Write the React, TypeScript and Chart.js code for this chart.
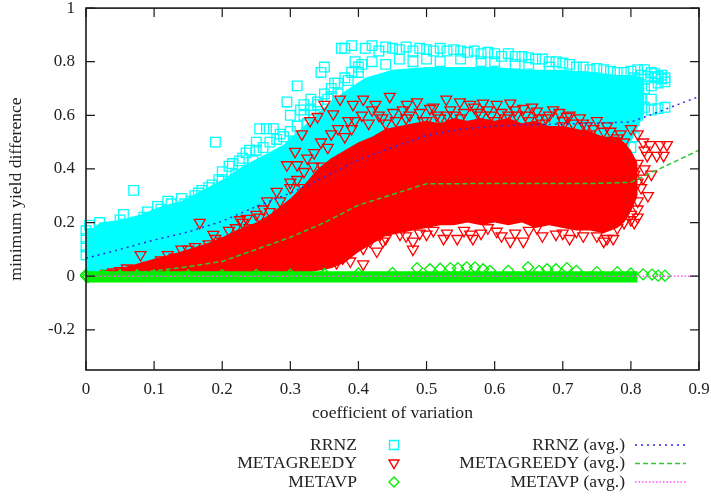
import React, { useEffect, useRef } from 'react';
import { Chart, registerables } from 'chart.js';
Chart.register(...registerables);

// ---- axes ----
const xTickValues = [0, 0.1, 0.2, 0.3, 0.4, 0.5, 0.6, 0.7, 0.8, 0.9];
const yTickValues = [-0.2, 0, 0.2, 0.4, 0.6, 0.8, 1];
const xTitle = 'coefficient of variation';
const yTitle = 'minimum yield difference';
const seriesNames = ['RRNZ', 'METAGREEDY', 'METAVP'];

// ---- dense cloud envelopes ----
const cyanBandX = [0, 0.012, 0.02, 0.05, 0.08, 0.11, 0.14, 0.17, 0.2, 0.23, 0.26, 0.29, 0.32, 0.35, 0.38, 0.41, 0.45, 0.5, 0.55, 0.6, 0.65, 0.7, 0.75, 0.78, 0.8, 0.82];
const cyanBandHigh = [0.18, 0.18, 0.2, 0.21, 0.23, 0.26, 0.28, 0.32, 0.36, 0.41, 0.45, 0.49, 0.56, 0.63, 0.69, 0.74, 0.77, 0.78, 0.78, 0.78, 0.77, 0.77, 0.76, 0.75, 0.75, 0.74];
const cyanBandLow = [0, 0, 0, 0, 0.005, 0.01, 0.02, 0.03, 0.04, 0.06, 0.08, 0.1, 0.12, 0.15, 0.2, 0.25, 0.3, 0.35, 0.38, 0.38, 0.38, 0.4, 0.42, 0.44, 0.5, 0.61];

const redBandX = [0.03, 0.05, 0.08, 0.1, 0.13, 0.15, 0.18, 0.2, 0.22, 0.25, 0.27, 0.3, 0.32, 0.34, 0.36, 0.38, 0.4, 0.42, 0.44, 0.46, 0.48, 0.5, 0.52, 0.54, 0.56, 0.58, 0.6, 0.62, 0.64, 0.66, 0.68, 0.7, 0.72, 0.74, 0.76, 0.78, 0.79, 0.8, 0.81];
const redBandHigh = [0.015, 0.03, 0.05, 0.065, 0.085, 0.1, 0.125, 0.145, 0.17, 0.2, 0.23, 0.29, 0.34, 0.4, 0.44, 0.47, 0.5, 0.52, 0.55, 0.56, 0.57, 0.58, 0.57, 0.59, 0.58, 0.59, 0.58, 0.59, 0.57, 0.58, 0.56, 0.56, 0.55, 0.54, 0.52, 0.52, 0.5, 0.47, 0.42];
const redBandLow = [0.005, 0.008, 0.01, 0.01, 0.01, 0.01, 0.01, 0.01, 0.01, 0.01, 0.01, 0.01, 0.012, 0.02, 0.03, 0.05, 0.09, 0.12, 0.15, 0.16, 0.17, 0.18, 0.19, 0.19, 0.2, 0.19, 0.2, 0.19, 0.2, 0.18, 0.19, 0.18, 0.17, 0.17, 0.16, 0.18, 0.2, 0.24, 0.3];

const greenBandX = [0, 0.81];
const greenBandHigh = [0.018, 0.018];
const greenBandLow = [-0.024, -0.024];

// ---- individual markers (fringe of the clouds) ----
const rrnzPoints: [number, number][] = [
  [0, 0.17], [0, 0.14], [0, 0.11], [0, 0.08], [0.005, 0.19], [0.012, 0.15], [0.02, 0.2], [0.022, 0.17], [0.025, 0.13], [0.03, 0.1],
  [0.04, 0.18], [0.045, 0.15], [0.05, 0.21], [0.055, 0.23], [0.06, 0.19], [0.07, 0.32], [0.075, 0.2], [0.085, 0.22], [0.09, 0.24], [0.1, 0.21],
  [0.105, 0.26], [0.115, 0.23], [0.125, 0.27], [0.13, 0.25], [0.14, 0.29], [0.15, 0.26], [0.155, 0.28], [0.165, 0.31], [0.175, 0.3], [0.185, 0.34],
  [0.19, 0.5], [0.2, 0.36], [0.205, 0.33], [0.21, 0.41], [0.22, 0.38], [0.225, 0.43], [0.235, 0.46], [0.24, 0.47], [0.245, 0.43], [0.25, 0.5],
  [0.255, 0.55], [0.265, 0.55], [0.275, 0.55], [0.285, 0.53], [0.29, 0.46], [0.295, 0.65], [0.3, 0.6], [0.305, 0.5], [0.31, 0.71], [0.315, 0.62],
  [0.32, 0.64], [0.325, 0.57], [0.33, 0.66], [0.335, 0.6], [0.34, 0.65], [0.345, 0.76], [0.35, 0.78], [0.355, 0.66], [0.36, 0.7], [0.365, 0.72],
  [0.37, 0.68], [0.375, 0.85], [0.38, 0.85], [0.385, 0.73], [0.39, 0.86], [0.395, 0.8], [0.4, 0.76], [0.405, 0.79],
  [0.11, 0.25], [0.12, 0.28], [0.145, 0.27], [0.16, 0.3], [0.17, 0.32], [0.18, 0.33], [0.195, 0.36], [0.2, 0.39], [0.215, 0.42], [0.23, 0.44],
  [0.25, 0.47], [0.26, 0.48], [0.27, 0.5], [0.28, 0.51], [0.29, 0.52], [0.3, 0.54], [0.31, 0.56], [0.32, 0.6], [0.33, 0.62], [0.34, 0.64],
  [0.35, 0.68], [0.36, 0.67], [0.37, 0.72], [0.38, 0.74], [0.39, 0.76], [0.4, 0.78],
  [0.41, 0.85], [0.42, 0.86], [0.43, 0.84], [0.44, 0.855], [0.45, 0.85], [0.46, 0.845], [0.47, 0.855], [0.48, 0.84], [0.49, 0.85], [0.5, 0.845],
  [0.51, 0.84], [0.52, 0.85], [0.53, 0.84], [0.54, 0.845], [0.55, 0.84], [0.56, 0.835], [0.57, 0.84], [0.58, 0.83], [0.59, 0.835], [0.6, 0.83],
  [0.61, 0.82], [0.62, 0.83], [0.63, 0.82], [0.64, 0.82], [0.65, 0.815], [0.66, 0.81], [0.67, 0.81], [0.68, 0.8], [0.69, 0.8], [0.7, 0.795],
  [0.71, 0.79], [0.72, 0.78], [0.73, 0.78], [0.74, 0.77], [0.75, 0.775], [0.76, 0.77], [0.77, 0.765], [0.78, 0.76], [0.79, 0.76], [0.8, 0.765],
  [0.81, 0.77], [0.82, 0.77], [0.83, 0.76], [0.835, 0.74], [0.84, 0.745], [0.845, 0.735], [0.85, 0.74],
  [0.42, 0.8], [0.44, 0.79], [0.46, 0.81], [0.48, 0.8], [0.5, 0.81], [0.52, 0.8], [0.55, 0.81], [0.58, 0.8], [0.6, 0.8], [0.63, 0.79], [0.65, 0.79], [0.68, 0.78],
  [0.68, 0.65], [0.7, 0.64], [0.72, 0.65], [0.74, 0.64], [0.76, 0.65], [0.77, 0.64], [0.78, 0.65], [0.79, 0.64], [0.8, 0.63], [0.81, 0.62],
  [0.82, 0.63], [0.83, 0.62], [0.84, 0.625], [0.85, 0.63],
  [0.805, 0.74], [0.815, 0.75], [0.825, 0.745], [0.835, 0.755], [0.845, 0.75], [0.81, 0.69], [0.82, 0.7], [0.83, 0.71], [0.84, 0.72], [0.85, 0.725],
  [0.815, 0.66], [0.83, 0.66], [0.805, 0.58], [0.81, 0.6], [0.805, 0.52],
  [0.8, 0.7], [0.81, 0.72], [0.82, 0.735], [0.8, 0.68], [0.79, 0.58], [0.78, 0.55], [0.8, 0.55], [0.77, 0.47], [0.78, 0.45], [0.79, 0.5], [0.8, 0.48], [0.8, 0.6],
  [0.37, 0.07], [0.36, 0.1], [0.34, 0.12],
];

const metagreedyPoints: [number, number][] = [
  [0.03, 0.01], [0.04, 0.015], [0.05, 0.02], [0.06, 0.03], [0.08, 0.08], [0.09, 0.04], [0.11, 0.06], [0.13, 0.07], [0.15, 0.1], [0.167, 0.2],
  [0.187, 0.155], [0.21, 0.17], [0.226, 0.21], [0.236, 0.215], [0.25, 0.23], [0.266, 0.28], [0.28, 0.316], [0.295, 0.415], [0.31, 0.415], [0.307, 0.465],
  [0.317, 0.53], [0.329, 0.58], [0.34, 0.595], [0.35, 0.64], [0.363, 0.605], [0.373, 0.66], [0.385, 0.58], [0.392, 0.64], [0.334, 0.41], [0.346, 0.41],
  [0.378, 0.44], [0.319, 0.33], [0.3, 0.35], [0.27, 0.24], [0.24, 0.18], [0.2, 0.13], [0.18, 0.12],
  [0.12, 0.08], [0.14, 0.1], [0.16, 0.11], [0.19, 0.14], [0.22, 0.18], [0.23, 0.2], [0.255, 0.22], [0.26, 0.25], [0.285, 0.28],
  [0.3, 0.33], [0.31, 0.36], [0.32, 0.39], [0.325, 0.44], [0.335, 0.46], [0.345, 0.5], [0.355, 0.48], [0.36, 0.53], [0.37, 0.55], [0.38, 0.52], [0.39, 0.55], [0.395, 0.58],
  [0.407, 0.66], [0.42, 0.62], [0.43, 0.6], [0.446, 0.67], [0.451, 0.61], [0.471, 0.64], [0.486, 0.65], [0.505, 0.625], [0.515, 0.6], [0.529, 0.66],
  [0.549, 0.65], [0.564, 0.64], [0.575, 0.61], [0.583, 0.645], [0.595, 0.6], [0.603, 0.64], [0.623, 0.645], [0.632, 0.6], [0.642, 0.625], [0.662, 0.615],
  [0.675, 0.59], [0.686, 0.62], [0.706, 0.595], [0.715, 0.57], [0.725, 0.59], [0.745, 0.55], [0.76, 0.54], [0.78, 0.515], [0.8, 0.55], [0.81, 0.53],
  [0.405, 0.6], [0.415, 0.57], [0.425, 0.64], [0.435, 0.59], [0.455, 0.58], [0.465, 0.62], [0.475, 0.6], [0.49, 0.61], [0.495, 0.58], [0.51, 0.63],
  [0.52, 0.59], [0.535, 0.62], [0.54, 0.6], [0.555, 0.61], [0.57, 0.63], [0.58, 0.6], [0.59, 0.62], [0.61, 0.61], [0.615, 0.59], [0.63, 0.62],
  [0.645, 0.6], [0.655, 0.63], [0.665, 0.59], [0.68, 0.6], [0.695, 0.61], [0.7, 0.58], [0.71, 0.6], [0.73, 0.57], [0.735, 0.56], [0.75, 0.58],
  [0.765, 0.56], [0.77, 0.54], [0.785, 0.53], [0.79, 0.5],
  [0.818, 0.5], [0.828, 0.49], [0.843, 0.49], [0.853, 0.49], [0.824, 0.45], [0.838, 0.45], [0.848, 0.45], [0.818, 0.365], [0.79, 0.4], [0.8, 0.33],
  [0.81, 0.28], [0.8, 0.23], [0.78, 0.18], [0.76, 0.13], [0.774, 0.14], [0.72, 0.167], [0.69, 0.156], [0.662, 0.18], [0.642, 0.13], [0.623, 0.13],
  [0.603, 0.167], [0.564, 0.156], [0.545, 0.14], [0.525, 0.14], [0.5, 0.156], [0.48, 0.13], [0.461, 0.156], [0.432, 0.156], [0.417, 0.13], [0.407, 0.104],
  [0.398, 0.13], [0.377, 0.067], [0.388, 0.056], [0.407, 0.045], [0.427, 0.093], [0.436, 0.13], [0.48, 0.1], [0.568, 0.14], [0.348, 0.045], [0.368, 0.05],
  [0.44, 0.14], [0.47, 0.15], [0.49, 0.16], [0.51, 0.17], [0.53, 0.16], [0.555, 0.17], [0.58, 0.16], [0.59, 0.18], [0.61, 0.15], [0.63, 0.16],
  [0.65, 0.17], [0.67, 0.15], [0.7, 0.16], [0.71, 0.14], [0.73, 0.15], [0.75, 0.15], [0.765, 0.14],
  [0.81, 0.42], [0.82, 0.4], [0.83, 0.38], [0.815, 0.33], [0.825, 0.3], [0.81, 0.25], [0.805, 0.2],
  [0.8, 0.42], [0.805, 0.38], [0.81, 0.35], [0.8, 0.3], [0.795, 0.26], [0.8, 0.21], [0.81, 0.22], [0.79, 0.2], [0.82, 0.47],
  [0.44, 0.57], [0.5, 0.58], [0.55, 0.59], [0.6, 0.58], [0.65, 0.58], [0.7, 0.56], [0.74, 0.53], [0.47, 0.59], [0.53, 0.6], [0.62, 0.6], [0.67, 0.57],
];

const metavpPoints: [number, number][] = [
  [0, 0], [0, 0.005], [0.003, -0.003], [0.025, 0], [0.025, 0.004], [0.05, 0], [0.05, 0.004], [0.075, 0], [0.075, 0.004], [0.1, 0.003],
  [0.12, 0.002], [0.15, 0.003], [0.2, 0.004], [0.25, 0.005], [0.3, 0.006], [0.35, 0.008], [0.4, 0.01], [0.45, 0.012], [0.486, 0.03], [0.505, 0.026],
  [0.52, 0.028], [0.535, 0.03], [0.546, 0.03], [0.559, 0.033], [0.571, 0.033], [0.583, 0.026], [0.593, 0.02], [0.62, 0.02], [0.649, 0.033], [0.665, 0.02],
  [0.677, 0.026], [0.69, 0.026], [0.706, 0.03], [0.72, 0.02], [0.75, 0.015], [0.78, 0.015], [0.8, 0.01], [0.818, 0.007], [0.831, 0.006], [0.84, 0.002],
  [0.85, 0.002],
];

// ---- averages ----
const avgX = [0, 0.05, 0.1, 0.15, 0.2, 0.25, 0.3, 0.35, 0.4, 0.45, 0.5, 0.55, 0.6, 0.65, 0.7, 0.75, 0.8, 0.85, 0.9];
const rrnzAvg = [0.067, 0.1, 0.135, 0.165, 0.205, 0.26, 0.31, 0.37, 0.435, 0.48, 0.525, 0.548, 0.56, 0.565, 0.567, 0.571, 0.575, 0.622, 0.67];
const metagreedyAvg = [0, 0.008, 0.02, 0.035, 0.055, 0.1, 0.145, 0.2, 0.265, 0.305, 0.345, 0.345, 0.346, 0.346, 0.346, 0.346, 0.35, 0.41, 0.47];
const metavpAvg = [0, 0, 0, 0, 0, 0, 0, 0, 0, 0, 0, 0, 0, 0, 0, 0, 0, 0, 0];

const CYAN = '#00ffff';
const RED = '#ff0000';
const GREEN = '#00ee00';
const BLUE = '#2a2aee';
const GREEN_AVG = '#30c830';
const MAGENTA = '#ff55ff';
const TEXT = '#222222';
const FONT = '"Liberation Serif", "DejaVu Serif", serif';

const pts = (arr: [number, number][]) => arr.map(([x, y]) => ({ x, y }));
const band = (xs: number[], ys: number[]) => xs.map((x, i) => ({ x, y: ys[i] }));

function drawSymbol(ctx: CanvasRenderingContext2D, kind: number, x: number, y: number) {
  ctx.save();
  ctx.lineWidth = 1.4;
  ctx.beginPath();
  if (kind === 0) {
    ctx.strokeStyle = CYAN;
    ctx.rect(x - 4.5, y - 4.5, 9, 9);
  } else if (kind === 1) {
    ctx.strokeStyle = RED;
    ctx.moveTo(x - 5, y - 3.5);
    ctx.lineTo(x + 5, y - 3.5);
    ctx.lineTo(x, y + 5);
    ctx.closePath();
  } else {
    ctx.strokeStyle = GREEN;
    ctx.moveTo(x, y - 5);
    ctx.lineTo(x + 5, y);
    ctx.lineTo(x, y + 5);
    ctx.lineTo(x - 5, y);
    ctx.closePath();
  }
  ctx.stroke();
  ctx.restore();
}

const framePlugin = {
  id: 'gnuFrame',
  afterDraw(chart: any) {
    const ctx: CanvasRenderingContext2D = chart.ctx;
    const { left, right, top, bottom } = chart.chartArea;
    const xs = chart.scales.x;
    const ys = chart.scales.y;
    ctx.save();
    ctx.strokeStyle = '#1a1a1a';
    ctx.lineWidth = 1.6;
    ctx.strokeRect(left, top, right - left, bottom - top);
    ctx.lineWidth = 1.2;
    ctx.beginPath();
    xTickValues.forEach((v) => {
      const px = xs.getPixelForValue(v);
      ctx.moveTo(px, bottom);
      ctx.lineTo(px, bottom - 9);
      ctx.moveTo(px, top);
      ctx.lineTo(px, top + 9);
    });
    yTickValues.forEach((v) => {
      const py = ys.getPixelForValue(v);
      ctx.moveTo(left, py);
      ctx.lineTo(left + 9, py);
      ctx.moveTo(right, py);
      ctx.lineTo(right - 9, py);
    });
    ctx.stroke();

    ctx.fillStyle = TEXT;
    ctx.font = `17.6px ${FONT}`;
    ctx.textAlign = 'center';
    ctx.textBaseline = 'middle';
    ctx.fillText(xTitle, (left + right) / 2, 413);
    ctx.save();
    ctx.translate(16, (top + bottom) / 2);
    ctx.rotate(-Math.PI / 2);
    ctx.fillText(yTitle, 0, 0);
    ctx.restore();

    // legend
    const rows = [445, 463.5, 482];
    const avgStyles = [
      { c: BLUE, d: [2, 4] },
      { c: GREEN_AVG, d: [5, 3] },
      { c: MAGENTA, d: [1.5, 2] },
    ];
    ctx.textAlign = 'right';
    seriesNames.forEach((name, i) => {
      const y = rows[i];
      ctx.fillStyle = TEXT;
      ctx.fillText(name, 357, y);
      drawSymbol(ctx, i, 394, y);
      ctx.fillStyle = TEXT;
      ctx.fillText(`${name} (avg.)`, 625, y);
      ctx.save();
      ctx.strokeStyle = avgStyles[i].c;
      ctx.lineWidth = 1.5;
      ctx.setLineDash(avgStyles[i].d);
      ctx.beginPath();
      ctx.moveTo(635, y);
      ctx.lineTo(686, y);
      ctx.stroke();
      ctx.restore();
    });
    ctx.restore();
  },
};

export default function App() {
  const ref = useRef<HTMLCanvasElement>(null);
  useEffect(() => {
    const canvas = ref.current;
    if (!canvas) return;
    const hidden = 'rgba(0,0,0,0)';
    const bandLine = (data: any[], order: number, fill: any, color: string) => ({
      type: 'line' as const,
      data,
      order,
      fill,
      backgroundColor: color,
      borderColor: hidden,
      borderWidth: 0,
      pointRadius: 0,
      tension: 0,
    });
    const chart = new Chart(canvas, {
      type: 'scatter',
      data: {
        datasets: [
          bandLine(band(cyanBandX, cyanBandLow), 10, false, hidden),
          bandLine(band(cyanBandX, cyanBandHigh), 10, '-1', CYAN),
          {
            label: seriesNames[0],
            data: pts(rrnzPoints),
            order: 9,
            pointStyle: 'rect',
            pointRadius: 6.8,
            borderColor: CYAN,
            backgroundColor: hidden,
            borderWidth: 1.3,
            clip: false,
          },
          bandLine(band(redBandX, redBandLow), 8, false, hidden),
          bandLine(band(redBandX, redBandHigh), 8, '-1', RED),
          {
            label: seriesNames[1],
            data: pts(metagreedyPoints),
            order: 7,
            pointStyle: 'triangle',
            pointRotation: 180,
            pointRadius: 6.3,
            borderColor: RED,
            backgroundColor: hidden,
            borderWidth: 1.3,
            clip: false,
          },
          bandLine(band(greenBandX, greenBandLow), 6, false, hidden),
          bandLine(band(greenBandX, greenBandHigh), 6, '-1', GREEN),
          {
            label: seriesNames[2],
            data: pts(metavpPoints),
            order: 5,
            pointStyle: 'rectRot',
            pointRadius: 5.5,
            borderColor: GREEN,
            backgroundColor: hidden,
            borderWidth: 1.3,
            clip: false,
          },
          {
            type: 'line',
            label: `${seriesNames[0]} (avg.)`,
            data: band(avgX, rrnzAvg),
            order: 1,
            borderColor: BLUE,
            borderWidth: 1.5,
            borderDash: [2, 4],
            pointRadius: 0,
            fill: false,
            tension: 0,
          },
          {
            type: 'line',
            label: `${seriesNames[1]} (avg.)`,
            data: band(avgX, metagreedyAvg),
            order: 1,
            borderColor: GREEN_AVG,
            borderWidth: 1.5,
            borderDash: [5, 3],
            pointRadius: 0,
            fill: false,
            tension: 0,
          },
          {
            type: 'line',
            label: `${seriesNames[2]} (avg.)`,
            data: band(avgX, metavpAvg),
            order: 1,
            borderColor: MAGENTA,
            borderWidth: 1.5,
            borderDash: [1.5, 2],
            pointRadius: 0,
            fill: false,
            tension: 0,
          },
        ] as any,
      },
      options: {
        animation: false,
        responsive: false,
        events: [],
        layout: { padding: { top: 6, right: 12, left: 0, bottom: 0 } },
        plugins: { legend: { display: false }, tooltip: { enabled: false } },
        scales: {
          x: {
            type: 'linear',
            position: 'bottom',
            min: 0,
            max: 0.9,
            grid: { display: false, drawTicks: false },
            border: { display: false },
            ticks: {
              autoSkip: false,
              maxRotation: 0,
              padding: 9,
              color: TEXT,
              font: { family: FONT, size: 17 },
              callback: (v: any) => String(Math.round(Number(v) * 10) / 10),
            },
            afterBuildTicks: (s: any) => {
              s.ticks = xTickValues.map((value) => ({ value }));
            },
            afterFit: (s: any) => {
              s.height = 126;
              s.paddingLeft = 0;
              s.paddingRight = 0;
            },
          },
          y: {
            type: 'linear',
            min: -0.35,
            max: 1,
            grid: { display: false, drawTicks: false },
            border: { display: false },
            ticks: {
              padding: 11,
              color: TEXT,
              font: { family: FONT, size: 17 },
              callback: (v: any) => String(Math.round(Number(v) * 10) / 10),
            },
            afterBuildTicks: (s: any) => {
              s.ticks = yTickValues.map((value) => ({ value }));
            },
            afterFit: (s: any) => {
              s.width = 86;
              s.paddingTop = 0;
              s.paddingBottom = 0;
            },
          },
        },
      } as any,
      plugins: [framePlugin],
    });
    return () => chart.destroy();
  }, []);
  return (
    <div style={{ position: 'absolute', left: 0, top: 0, width: 711, height: 496, background: '#fff' }}>
      <canvas ref={ref} width={711} height={496} style={{ display: 'block', width: 711, height: 496 }} />
    </div>
  );
}
